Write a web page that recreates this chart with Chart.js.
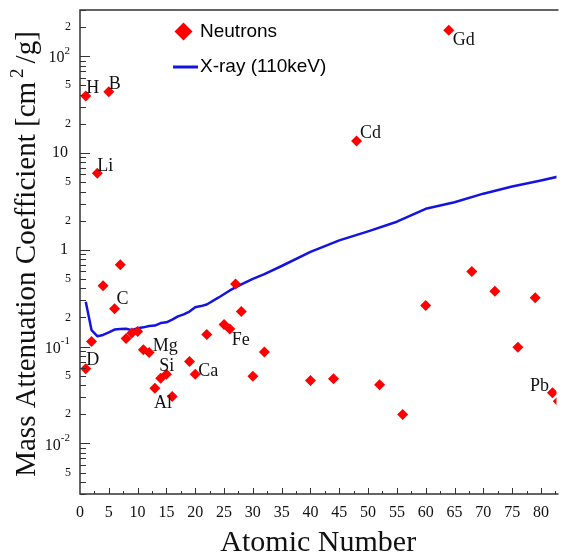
<!DOCTYPE html>
<html><head><meta charset="utf-8">
<script src="https://cdn.jsdelivr.net/npm/chart.js@4.4.0/dist/chart.umd.min.js"></script>
<style>html,body{margin:0;padding:0;background:#fff;overflow:hidden}#wrap{width:562px;height:556px;position:relative}</style>
</head><body><div id="wrap"><canvas id="c" width="562" height="556"></canvas></div>
<script>
// ---- data ----
const neutronZ = [1,1,2,3,4,5,6,7,8,9,10,11,12,13,14,15,16,19,20,22,25,26,27,28,30,32,40,44,48,52,56,60,64,68,72,76,79,82,83];
const neutronMu = [38.7,0.059,0.113,6.18,0.425,42.8,0.246,0.70,0.121,0.138,0.143,0.0925,0.0867,0.0372,0.0471,0.0518,0.0305,0.070,0.0518,0.133,0.169,0.152,0.443,0.231,0.0494,0.088,0.0446,0.0464,13.3,0.0403,0.0199,0.265,185,0.598,0.372,0.0984,0.32,0.0333,0.0273];
const xrayZ = [1,2,3,4,5,6,7,8,9,10,11,12,13,14,15,16,17,18,19,20,21,22,24,26,28,30,32,35,40,45,50,55,60,65,70,75,80,83];
const xrayMu = [0.29,0.148,0.128,0.132,0.140,0.150,0.152,0.153,0.148,0.155,0.158,0.163,0.165,0.175,0.178,0.190,0.205,0.215,0.230,0.255,0.262,0.272,0.32,0.38,0.44,0.50,0.56,0.68,0.95,1.25,1.55,1.95,2.65,3.1,3.8,4.5,5.2,5.7];
const elementNames = ['H','B','Li','C','D','Mg','Si','Al','Ca','Fe','Cd','Gd','Pb'];
const elementPoint = [0,5,3,6,1,12,14,13,18,21,28,32,37];
const xTickValues = [0,5,10,15,20,25,30,35,40,45,50,55,60,65,70,75,80];
const yLabelValues = [0.005,0.01,0.02,0.05,0.1,0.2,0.5,1,2,5,10,20,50,100,200];
const yLabelBase = ['5','10','2','5','10','2','5','1','2','5','10','2','5','10','2'];
const yLabelSup  = ['','-2','','','-1','','','','','','','','','2',''];
const seriesNames = ['Neutrons','X-ray (110keV)'];
const xTitle = 'Atomic Number';
const yTitleParts = ['Mass Attenuation Coefficient [cm','2','/g]'];

// ---- layout / style ----
const labelOffsets = [[7,-8],[6,-8],[8,-7],[8,-9],[7,-9],[16,-6],[6,-12],[8,15],[13,-3],[11,11],[14,-8],[15,10],[-13,-7]];
const RED = '#ff0000', BLUE = '#1414e0', SERIF = '"Liberation Serif", "Times New Roman", serif';

const overlay = {
  id: 'overlay',
  afterDatasetsDraw(chart) {
    const ctx = chart.ctx, xs = chart.scales.x, ys = chart.scales.y, a = chart.chartArea;
    ctx.save();
    // frame
    ctx.strokeStyle = '#333'; ctx.lineWidth = 1.5;
    ctx.beginPath();
    ctx.moveTo(a.right + 2, a.top); ctx.lineTo(a.left, a.top); ctx.lineTo(a.left, a.bottom); ctx.lineTo(a.right + 2, a.bottom);
    ctx.stroke();
    // y ticks (inside)
    ctx.lineWidth = 1;
    ctx.beginPath();
    for (let e = -3; e <= 2; e++) {
      for (let m = 1; m <= 9; m++) {
        const v = m * Math.pow(10, e);
        if (v < ys.min * 0.999 || v > ys.max * 1.001) continue;
        const py = Math.round(ys.getPixelForValue(v)) + 0.5;
        const len = m === 1 ? 10 : 6;
        ctx.moveTo(a.left, py); ctx.lineTo(a.left + len, py);
      }
    }
    // x ticks (inside)
    for (let v = 2.5; v < xs.max; v += 2.5) {
      const px = Math.round(xs.getPixelForValue(v)) + 0.5;
      const len = (v % 5 === 0) ? 6 : 3;
      ctx.moveTo(px, a.bottom); ctx.lineTo(px, a.bottom - len);
    }
    ctx.stroke();
    ctx.fillStyle = '#111';
    // x tick labels
    ctx.font = '16px ' + SERIF; ctx.textAlign = 'center'; ctx.textBaseline = 'middle';
    xTickValues.forEach(v => ctx.fillText(String(v), xs.getPixelForValue(v), a.bottom + 19));
    // y tick labels
    ctx.textAlign = 'left';
    yLabelValues.forEach((v, i) => {
      const py = ys.getPixelForValue(v);
      const base = yLabelBase[i], sup = yLabelSup[i];
      if (base === '2' || base === '5') {
        ctx.font = '12px ' + SERIF;
        const w = ctx.measureText(base).width;
        ctx.fillText(base, 71 - w, py);
      } else {
        ctx.font = '16px ' + SERIF;
        const wb = ctx.measureText(base).width;
        ctx.font = '11px ' + SERIF;
        const ws = sup ? ctx.measureText(sup).width : 0;
        const right = sup ? 70 : 68;
        const x0 = right - wb - ws;
        ctx.font = '16px ' + SERIF;
        ctx.fillText(base, x0, py + (sup ? 2 : 0));
        if (sup) { ctx.font = '11px ' + SERIF; ctx.fillText(sup, x0 + wb, py - 5); }
      }
    });
    // element labels
    ctx.font = '18px ' + SERIF; ctx.textAlign = 'center'; ctx.textBaseline = 'middle';
    elementNames.forEach((n, i) => {
      const k = elementPoint[i];
      const px = xs.getPixelForValue(neutronZ[k]) + labelOffsets[i][0];
      const py = ys.getPixelForValue(neutronMu[k]) + labelOffsets[i][1];
      ctx.fillText(n, px, py);
    });
    // x title
    ctx.font = '30px ' + SERIF; ctx.textBaseline = 'alphabetic';
    ctx.fillText(xTitle, (a.left + a.right) / 2, 551);
    // y title (rotated)
    ctx.save();
    ctx.translate(35, 254); ctx.rotate(-Math.PI / 2);
    ctx.font = '29px ' + SERIF;
    const w1 = ctx.measureText(yTitleParts[0]).width, w3 = ctx.measureText(yTitleParts[2]).width;
    ctx.font = '19px ' + SERIF;
    const w2 = ctx.measureText(yTitleParts[1]).width;
    const gapA = 4, gapB = 5, total = w1 + gapA + w2 + gapB + w3;
    let x = -total / 2;
    ctx.textAlign = 'left';
    ctx.font = '29px ' + SERIF; ctx.fillText(yTitleParts[0], x, 0); x += w1 + gapA;
    ctx.font = '19px ' + SERIF; ctx.fillText(yTitleParts[1], x, -12); x += w2 + gapB;
    ctx.font = '29px ' + SERIF; ctx.fillText(yTitleParts[2], x, 0);
    ctx.restore();
    // legend
    ctx.fillStyle = RED;
    ctx.beginPath();
    ctx.moveTo(183.5 - 9, 31.5); ctx.lineTo(183.5, 22.5); ctx.lineTo(183.5 + 9, 31.5); ctx.lineTo(183.5, 40.5); ctx.closePath();
    ctx.fill();
    ctx.strokeStyle = BLUE; ctx.lineWidth = 3;
    ctx.beginPath(); ctx.moveTo(173, 67); ctx.lineTo(198, 67); ctx.stroke();
    ctx.fillStyle = '#000'; ctx.font = '19px "Liberation Sans", Arial, sans-serif';
    ctx.textAlign = 'left'; ctx.textBaseline = 'middle';
    ctx.fillText(seriesNames[0], 200, 32);
    ctx.fillText(seriesNames[1], 200, 67);
    ctx.restore();
  }
};

new Chart(document.getElementById('c'), {
  type: 'scatter',
  data: {
    datasets: [
      { label: seriesNames[0], data: neutronZ.map((z, i) => ({x: z, y: neutronMu[i]})),
        pointStyle: 'rectRot', pointRadius: 5.5, pointHoverRadius: 5.5, backgroundColor: RED, borderWidth: 0, borderColor: RED },
      { label: seriesNames[1], type: 'line', data: xrayZ.map((z, i) => ({x: z, y: xrayMu[i]})),
        borderColor: BLUE, borderWidth: 2.5, pointRadius: 0, tension: 0, fill: false, borderJoinStyle: 'round' }
    ]
  },
  options: {
    responsive: false, animation: false, devicePixelRatio: 1,
    layout: { padding: { left: 80, top: 10, right: 0, bottom: 62 } },
    plugins: { legend: { display: false }, tooltip: { enabled: false } },
    events: [],
    scales: {
      x: { type: 'linear', min: 0, max: 82.7, display: false },
      y: { type: 'logarithmic', min: 0.003, max: 300, display: false }
    }
  },
  plugins: [overlay]
});
</script></body></html>
